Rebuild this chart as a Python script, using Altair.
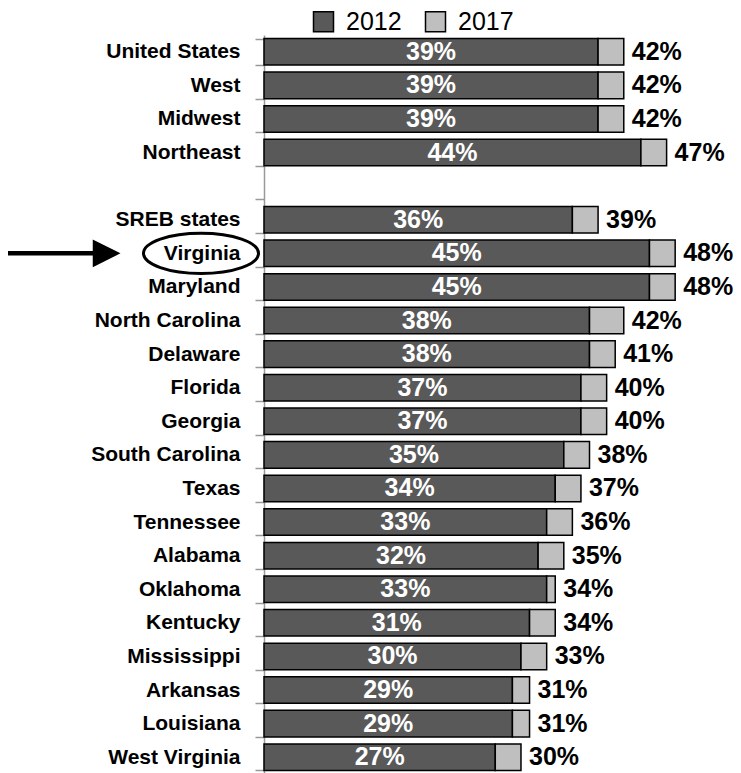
import altair as alt
import pandas as pd

categories = ["United States", "West", "Midwest", "Northeast", "gap",
              "SREB states", "Virginia", "Maryland", "North Carolina", "Delaware",
              "Florida", "Georgia", "South Carolina", "Texas", "Tennessee",
              "Alabama", "Oklahoma", "Kentucky", "Mississippi", "Arkansas",
              "Louisiana", "West Virginia"]
regions = [c for c in categories if c != "gap"]
v2012 = [39, 39, 39, 44, 36, 45, 45, 38, 38, 37, 37, 35, 34, 33, 32, 33, 31, 30, 29, 29, 27]
v2017 = [42, 42, 42, 47, 39, 48, 48, 42, 41, 40, 40, 38, 37, 36, 35, 34, 34, 33, 31, 31, 30]
series = ["2012", "2017"]
colors = ["#595959", "#BFBFBF"]

rows = []
for r, a, b in zip(regions, v2012, v2017):
    rows.append(dict(region=r, series="2012", start=0, end=a, mid=a / 2, label=f"{a}%"))
    rows.append(dict(region=r, series="2017", start=a, end=b, mid=(a + b) / 2, label=f"{b}%"))
df = pd.DataFrame(rows)
ann = pd.DataFrame([dict(region="Virginia")])

FONT = "Liberation Sans"
yscale = alt.Scale(domain=categories, paddingInner=0.21, paddingOuter=0.105)
xscale = alt.Scale(domain=[0, 53], nice=False, zero=True)

yaxis = alt.Axis(
    title=None,
    labelExpr="datum.value == 'gap' ? '' : datum.value",
    tickBand="extent", tickSize=9, labelPadding=15,
    labelFont=FONT, labelFontSize=21, labelFontWeight="bold", labelColor="black",
    domainColor="#999999", tickColor="#999999", domainWidth=1.5, tickWidth=1.5,
    grid=False, labelLimit=300,
)

Y = alt.Y("region:N", scale=yscale, axis=yaxis, sort=categories)

bars = alt.Chart(df).mark_bar(stroke="black", strokeWidth=1.5, opacity=1).encode(
    y=Y,
    x=alt.X("start:Q", scale=xscale, axis=None),
    x2="end:Q",
    color=alt.Color(
        "series:N",
        scale=alt.Scale(domain=series, range=colors),
        legend=alt.Legend(
            title=None, orient="none", legendX=47, legendY=-26, direction="horizontal",
            symbolType="square", symbolSize=400, symbolStrokeColor="black",
            symbolStrokeWidth=1.5, symbolOpacity=1,
            labelFont=FONT, labelFontSize=25, labelColor="black",
            labelOffset=10, columnPadding=20,
        ),
    ),
)

lab12 = alt.Chart(df[df.series == "2012"]).mark_text(
    color="white", font=FONT, fontSize=25, fontWeight="bold",
    align="center", baseline="middle",
).encode(y=Y, x=alt.X("mid:Q", scale=xscale), text="label:N")

lab17 = alt.Chart(df[df.series == "2017"]).mark_text(
    color="black", font=FONT, fontSize=25, fontWeight="bold",
    align="left", baseline="middle", dx=8,
).encode(y=Y, x=alt.X("end:Q", scale=xscale), text="label:N")

ellipse = alt.Chart(ann).mark_point(
    shape="M -1 0 A 1 0.35 0 1 0 1 0 A 1 0.35 0 1 0 -1 0 Z",
    size=13225, filled=False, stroke="black", strokeWidth=3, opacity=1,
).encode(y=Y, x=alt.value(-63))

arrow_line = alt.Chart(ann).mark_rule(color="black", strokeWidth=4.5).encode(
    y=Y, x=alt.value(-257), x2=alt.value(-168)
)
arrow_head = alt.Chart(ann).mark_point(
    shape="M -1 -1 L 1 0 L -1 1 Z", size=600, filled=True,
    fill="black", stroke="black", opacity=1,
).encode(y=Y, x=alt.value(-158))

chart = alt.layer(bars, lab12, lab17, ellipse, arrow_line, arrow_head).properties(
    width=454, height=739,
    autosize=alt.AutoSizeParams(type="none"),
    padding={"left": 256, "top": 27, "right": 15, "bottom": 0},
).configure_view(stroke=None)

chart.save("out.html", embed_options={"renderer": "svg", "actions": False})
